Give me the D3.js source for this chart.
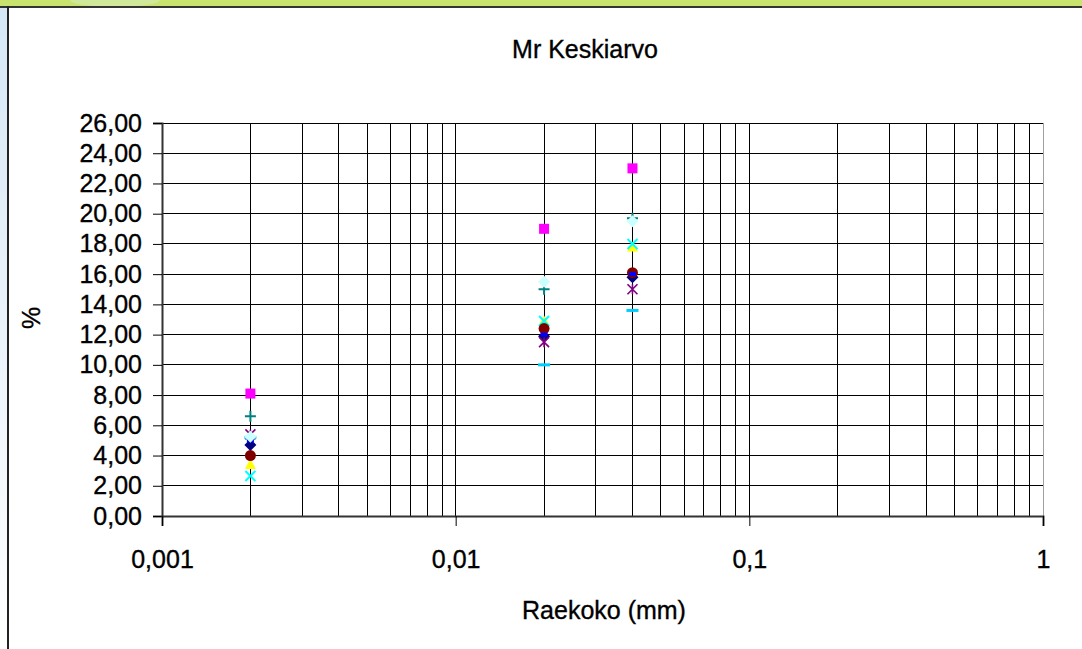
<!DOCTYPE html>
<html>
<head>
<meta charset="utf-8">
<script src="https://cdn.jsdelivr.net/npm/d3@7"></script>
<style>
  body { margin: 0; background: #fff; }
  svg { display: block; font-family: "Liberation Sans", Arial, sans-serif; }
  svg text { stroke: #000; stroke-width: 0.35px; }
</style>
</head>
<body>
<svg id="chart" width="1082" height="649"></svg>
<script>
// grain sizes (mm) on the x axis
const sizes = [0.002, 0.02, 0.04];

// one array per sample, % passing at each size
const series1 = [4.7, 11.9, 15.8];
const series2 = [8.1, 19.0, 23.0];
const series3 = [3.4, 12.9, 17.8];
const series4 = [2.65, 12.9, 18.0];
const series5 = [5.4, 11.5, 15.0];
const series6 = [4.0, 12.4, 16.1];
const series7 = [6.6, 15.0, 19.7];
const series8 = [5.0, 12.0, 16.0];
const series9 = [5.2, 10.0, 13.6];
const series10 = [5.25, 15.5, 19.5];

const yTicks = [0, 2, 4, 6, 8, 10, 12, 14, 16, 18, 20, 22, 24, 26];
const xTicks = [0.001, 0.01, 0.1, 1];
const xTickLabels = ["0,001", "0,01", "0,1", "1"];

// excel 2003 default look, in series order
const styles = [
  { color: "#000080", marker: "diamond" },
  { color: "#FF00FF", marker: "square" },
  { color: "#FFFF00", marker: "triangle" },
  { color: "#00FFFF", marker: "x" },
  { color: "#800080", marker: "star" },
  { color: "#800000", marker: "circle" },
  { color: "#008080", marker: "plus" },
  { color: "#0000FF", marker: "shortbar" },
  { color: "#00CCFF", marker: "longbar" },
  { color: "#CCFFFF", marker: "diamond" }
];

const allSeries = [series1, series2, series3, series4, series5,
  series6, series7, series8, series9, series10];

const width = 1082, height = 649;
const plot = { left: 162, right: 1043, top: 123, bottom: 516 };

const svg = d3.select("#chart");

// page decoration around the chart frame
const defs = svg.append("defs");
const grad = defs.append("linearGradient")
  .attr("id", "sideGrad").attr("x1", 0).attr("y1", 0).attr("x2", 0).attr("y2", 1);
grad.append("stop").attr("offset", "0%").attr("stop-color", "#d5e7f6");
grad.append("stop").attr("offset", "60%").attr("stop-color", "#eef5fb");
grad.append("stop").attr("offset", "100%").attr("stop-color", "#ffffff");

svg.append("rect").attr("x", 0).attr("y", 0).attr("width", 8).attr("height", height)
  .attr("fill", "url(#sideGrad)");
svg.append("rect").attr("x", 0).attr("y", 0).attr("width", width).attr("height", 6)
  .attr("fill", "#c8e36e");
svg.append("ellipse").attr("cx", 115).attr("cy", 0).attr("rx", 45).attr("ry", 7)
  .attr("fill", "#d2e8a4").attr("opacity", 0.8);
svg.append("rect").attr("x", 0).attr("y", 6).attr("width", width).attr("height", 2)
  .attr("fill", "#333");
svg.append("rect").attr("x", 7).attr("y", 6).attr("width", 2).attr("height", height)
  .attr("fill", "#222");

const x = d3.scaleLog().domain([0.001, 1]).range([plot.left, plot.right]);
const y = d3.scaleLinear().domain([0, 26]).range([plot.bottom, plot.top]);

const comma = d3.formatLocale({ decimal: ",", thousands: " ", grouping: [3], currency: ["", ""] });
const fmtY = comma.format(".2f");

// gridlines
const grid = svg.append("g").attr("shape-rendering", "crispEdges");
const minorX = [];
[0.001, 0.01, 0.1].forEach(d => {
  for (let k = 1; k <= 9; k++) minorX.push(d * k);
});
grid.selectAll("line.vx")
  .data(minorX)
  .join("line")
  .attr("x1", d => x(d)).attr("x2", d => x(d))
  .attr("y1", plot.top).attr("y2", plot.bottom)
  .attr("stroke", "#000").attr("stroke-width", 1);
grid.append("line")
  .attr("x1", x(1)).attr("x2", x(1))
  .attr("y1", plot.top).attr("y2", plot.bottom)
  .attr("stroke", "#a0a0a0");
grid.selectAll("line.hy")
  .data(yTicks.slice(1))
  .join("line")
  .attr("x1", plot.left).attr("x2", plot.right)
  .attr("y1", d => y(d)).attr("y2", d => y(d))
  .attr("stroke", "#000").attr("stroke-width", 1);

// axes
const yAxis = svg.append("g")
  .attr("transform", `translate(${plot.left},0)`)
  .call(d3.axisLeft(y).tickValues(yTicks).tickFormat(fmtY).tickSize(9).tickPadding(11));
const xAxis = svg.append("g")
  .attr("transform", `translate(0,${plot.bottom})`)
  .call(d3.axisBottom(x).tickValues(xTicks)
    .tickFormat((d, i) => xTickLabels[i]).tickSize(10).tickPadding(24));

[yAxis, xAxis].forEach(a => {
  a.select(".domain").attr("stroke", "#333").attr("stroke-width", 2);
  a.selectAll(".tick line").attr("stroke", "#000");
  a.selectAll("text").attr("font-size", 25).attr("fill", "#000")
    .attr("font-family", "Liberation Sans, Arial, sans-serif");
});

// titles
svg.append("text")
  .attr("x", 585).attr("y", 58)
  .attr("text-anchor", "middle").attr("font-size", 25)
  .text("Mr Keskiarvo");
svg.append("text")
  .attr("x", 604).attr("y", 619)
  .attr("text-anchor", "middle").attr("font-size", 25)
  .text("Raekoko (mm)");
svg.append("text")
  .attr("transform", "translate(40,318) rotate(-90)")
  .attr("text-anchor", "middle").attr("font-size", 25)
  .text("%");

// markers
function drawMarker(g, kind, color) {
  if (kind === "diamond") {
    g.append("path").attr("d", "M0,-6L6,0L0,6L-6,0Z").attr("fill", color);
  } else if (kind === "square") {
    g.append("rect").attr("x", -5).attr("y", -5).attr("width", 10).attr("height", 10).attr("fill", color);
  } else if (kind === "triangle") {
    g.append("path").attr("d", "M0,-5.5L5.5,4.5L-5.5,4.5Z").attr("fill", color);
  } else if (kind === "x") {
    g.append("path").attr("d", "M-5,-5L5,5M5,-5L-5,5")
      .attr("stroke", color).attr("stroke-width", 2).attr("fill", "none");
  } else if (kind === "star") {
    g.append("path").attr("d", "M-5,-5L5,5M5,-5L-5,5M0,-5L0,5")
      .attr("stroke", color).attr("stroke-width", 1.6).attr("fill", "none");
  } else if (kind === "circle") {
    g.append("circle").attr("r", 5.5).attr("fill", color);
  } else if (kind === "plus") {
    g.append("path").attr("d", "M-5.5,0L5.5,0M0,-5.5L0,5.5")
      .attr("stroke", color).attr("stroke-width", 2).attr("fill", "none");
  } else if (kind === "shortbar") {
    g.append("rect").attr("x", -3.5).attr("y", -2).attr("width", 7).attr("height", 4).attr("fill", color);
  } else if (kind === "longbar") {
    g.append("rect").attr("x", -6).attr("y", -1.5).attr("width", 12).attr("height", 3).attr("fill", color);
  }
}

const marks = svg.append("g");
allSeries.forEach((values, s) => {
  const st = styles[s];
  values.forEach((v, i) => {
    const g = marks.append("g")
      .attr("transform", `translate(${x(sizes[i])},${y(v)})`);
    drawMarker(g, st.marker, st.color);
  });
});
</script>
</body>
</html>
